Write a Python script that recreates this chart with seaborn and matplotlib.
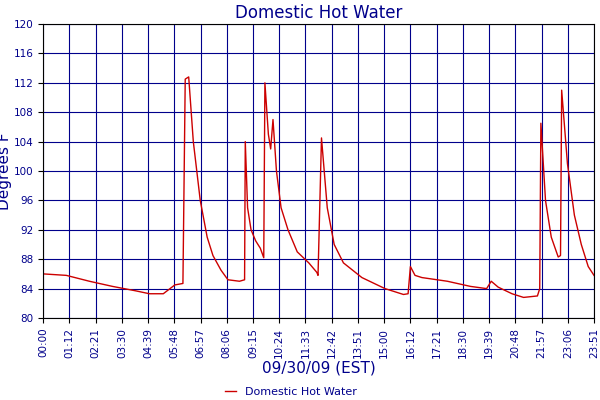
import matplotlib
matplotlib.use("Agg")
import matplotlib.pyplot as plt
import seaborn as sns
import pandas as pd

hours = [0.0, 1.0, 2.0, 3.0, 4.0, 4.6, 5.2, 5.7, 6.05, 6.15, 6.3, 6.5, 6.8, 7.1, 7.35, 7.7, 8.0, 8.5, 8.72, 8.75, 8.85, 9.0, 9.2, 9.4, 9.55, 9.6, 9.75, 9.85, 9.95, 10.1, 10.3, 10.6, 11.0, 11.5, 11.85, 11.9, 12.05, 12.3, 12.6, 13.0, 13.8, 14.8, 15.6, 15.8, 15.9, 16.1, 16.4, 17.5, 18.5, 19.2, 19.4, 19.7, 20.3, 20.8, 21.4, 21.5, 21.55, 21.75, 22.0, 22.3, 22.4, 22.45, 22.7, 23.0, 23.3, 23.6, 23.85]
temps = [86.0, 85.8, 85.0, 84.3, 83.7, 83.3, 83.3, 84.5, 84.7, 112.5, 112.8, 104, 96, 91, 88.5, 86.5, 85.2, 85.0, 85.2, 104, 95, 92, 90.5, 89.5, 88.2, 112, 105, 103, 107, 100, 95, 92, 89, 87.5, 86.2, 85.8, 104.5, 95, 90, 87.5, 85.5, 84.0, 83.2, 83.3, 87, 85.8, 85.5, 85.0, 84.3, 84.0, 85.0, 84.2, 83.3, 82.8, 83.0, 84.0, 106.5, 96, 91, 88.3, 88.5, 111, 101, 94, 90, 87, 85.8]
tick_labels = ["00:00", "01:12", "02:21", "03:30", "04:39", "05:48", "06:57", "08:06", "09:15", "10:24", "11:33", "12:42", "13:51", "15:00", "16:12", "17:21", "18:30", "19:39", "20:48", "21:57", "23:06", "23:51"]

navy = "#00008B"
df = pd.DataFrame({"hour": hours, "temp": temps})
fig, ax = plt.subplots(figsize=(6, 4), dpi=100)
fig.subplots_adjust(left=0.072, right=0.99, top=0.94, bottom=0.205)
sns.lineplot(data=df, x="hour", y="temp", color="#CC0000", lw=1, ax=ax, label="Domestic Hot Water")
n = len(tick_labels)
xmax = 23.85
ax.set_xlim(0, xmax)
ax.set_ylim(80, 120)
ax.set_xticks([i * xmax / (n - 1) for i in range(n)])
ax.set_xticklabels(tick_labels, rotation=90, fontsize=7.5, color=navy)
ax.set_yticks(range(80, 121, 4))
ax.tick_params(axis="y", labelsize=7.5, labelcolor=navy)
ax.grid(True, color=navy, lw=0.8)
for s in ax.spines.values():
    s.set_color("black")
ax.set_xlabel("09/30/09 (EST)", color=navy, fontsize=11, labelpad=2)
ax.set_ylabel("Degrees F", color=navy, fontsize=11, labelpad=1)
ax.set_title("Domestic Hot Water", color=navy, fontsize=12, pad=4)
ax.legend(loc="upper center", bbox_to_anchor=(0.45, -0.2), frameon=False, fontsize=8, labelcolor=navy, handlelength=1)
fig.savefig("out.png")
